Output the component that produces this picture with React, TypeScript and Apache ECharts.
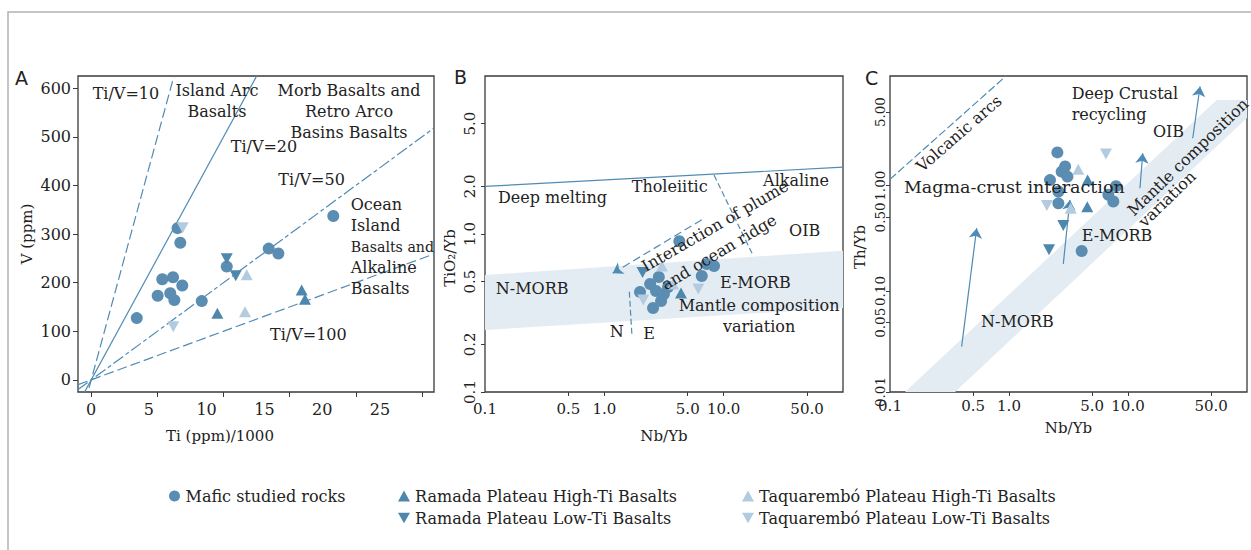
import React, { useEffect, useRef } from 'react';
import * as echarts from 'echarts';

const FONT = '"DejaVu Serif", serif';
const INK = '#222222';
const FRAME = '#3a3a3a';
const LINE_BLUE = '#4f8bb5';
const MAFIC = '#5a8db1';
const RAMADA = '#4e87ad';
const TAQUA = '#b3cbde';
const BAND = '#e4ecf3';

const NAME_MAFIC = 'Mafic studied rocks';
const NAME_RAMADA_HIGH = 'Ramada Plateau High-Ti Basalts';
const NAME_RAMADA_LOW = 'Ramada Plateau Low-Ti Basalts';
const NAME_TAQUA_HIGH = 'Taquarembó Plateau High-Ti Basalts';
const NAME_TAQUA_LOW = 'Taquarembó Plateau Low-Ti Basalts';

// ---- Panel A: Ti (ppm)/1000 vs V (ppm) ----
const maficA = [[3.44, 127], [5.02, 173], [5.37, 207], [6.18, 211], [6.88, 194], [5.97, 178], [6.28, 164], [6.73, 282], [6.52, 312], [8.35, 162], [10.24, 233], [13.41, 270], [14.14, 260], [18.29, 337]];
const ramadaHighA = [[9.53, 137], [15.9, 185], [16.15, 166]];
const ramadaLowA = [[10.24, 249], [10.92, 214]];
const taquaHighA = [[11.75, 216], [11.62, 140]];
const taquaLowA = [[6.2, 109], [6.91, 313]];
const tiVRatios = [10, 20, 50, 100];
const ticksAx = [0, 5, 10, 15, 20, 25];
const ticksAy = [0, 100, 200, 300, 400, 500, 600];

// ---- Panel B: Nb/Yb vs TiO2/Yb ----
const maficB = [[4.25, 0.9], [7.21, 0.646], [8.3, 0.627], [6.55, 0.542], [1.99, 0.43], [2.42, 0.483], [2.86, 0.534], [2.71, 0.436], [3.16, 0.417], [2.99, 0.377], [2.56, 0.34], [3.42, 0.462]];
const ramadaHighB = [[4.39, 0.423]];
const ramadaLowB = [[2.09, 0.571]];
const taquaHighB = [[3.04, 0.627], [3.76, 0.483]];
const taquaLowB = [[2.12, 0.382], [6.13, 0.449]];
const meltingLineB = [[0.1, 2.0], [100, 2.65]];
const alkalineDividerB = [[8.3, 2.36], [17.5, 0.74]];
const nEDividerB = [[1.62, 0.431], [1.706, 0.224]];
const plumeArrowB = [[6.55, 1.23], [1.175, 0.564]];
const morbBandB = [[0.1, 0.55], [100, 0.784], [100, 0.34], [0.1, 0.247]];
const ticksLogX = [0.1, 0.5, 1, 5, 10, 50];
const ticksBy = [0.1, 0.2, 0.5, 1, 2, 5];

// ---- Panel C: Nb/Yb vs Th/Yb ----
const maficC = [[2.55, 2.07], [2.96, 1.52], [2.77, 1.36], [3.1, 1.22], [2.21, 1.13], [2.6, 0.88], [2.6, 0.68], [7.93, 0.99], [6.84, 0.82], [7.53, 0.707], [4.08, 0.24]];
const ramadaHighC = [[4.58, 1.13], [4.55, 0.63]];
const ramadaLowC = [[2.86, 0.42], [2.17, 0.246]];
const taquaHighC = [[3.82, 1.43], [3.3, 0.61]];
const taquaLowC = [[6.53, 2.0], [2.08, 0.65]];
const volcanicArcC = [[0.1, 1.15], [0.944, 11]];
const trendArrowsC = [
  [[0.4, 0.0297], [0.535, 0.395]],
  [[2.86, 0.181], [3.25, 0.732]],
  [[12.6, 0.947], [13.3, 2.03]],
  [[35.0, 2.82], [40.3, 8.74]],
];
const mantleArrayC = [[0.1336, 0.011], [55.6, 6.52], [100, 6.52], [100, 4.4], [0.352, 0.011]];
const ticksCy = [0.011, 0.05, 0.1, 0.5, 1, 5];

// Annotation anchors: [x, y, text, rotation in degrees, alignment, font size]
type Note = [number, number, string, number, 'left' | 'center', number?];
const notesA: Note[] = [
  [0.11, 589, 'Ti/V=10', 0, 'left'],
  [9.5, 574, 'Island Arc\nBasalts', 0, 'center'],
  [19.48, 552, 'Morb Basalts and\nRetro Arco\nBasins Basalts', 0, 'center'],
  [10.54, 481, 'Ti/V=20', 0, 'left'],
  [14.14, 412, 'Ti/V=50', 0, 'left'],
  [19.61, 274, 'Ocean\nIsland\n{c|Basalts and}\nAlkaline\nBasalts', 0, 'left'],
  [13.51, 94, 'Ti/V=100', 0, 'left'],
];
const notesB: Note[] = [
  [0.1285, 1.69, 'Deep melting', 0, 'left'],
  [1.696, 1.99, 'Tholeiitic', 0, 'left'],
  [21.4, 2.17, 'Alkaline', 0, 'left'],
  [35.3, 1.045, 'OIB', 0, 'left'],
  [0.123, 0.455, 'N-MORB', 0, 'left'],
  [9.31, 0.49, 'E-MORB', 0, 'left'],
  [19.8, 0.301, 'Mantle composition\nvariation', 0, 'center'],
  [1.27, 0.241, 'N', 0, 'center'],
  [2.37, 0.233, 'E', 0, 'center'],
  [8.46, 1.124, 'Interaction of plume', 30, 'center'],
  [9.14, 0.769, 'and ocean ridge', 31, 'center'],
];
const notesC: Note[] = [
  [0.38, 3.13, 'Volcanic arcs', 41, 'center'],
  [3.36, 5.97, 'Deep Crustal\nrecycling', 0, 'left'],
  [16.2, 3.25, 'OIB', 0, 'left'],
  [0.131, 0.98, 'Magma-crust interaction', 0, 'left', 17.5],
  [4.08, 0.34, 'E-MORB', 0, 'left'],
  [0.582, 0.051, 'N-MORB', 0, 'left'],
  [31.9, 1.87, 'Mantle composition', 44, 'center'],
  [21.3, 0.75, 'variation', 44, 'center'],
];

const DOWN = 'path://M0,0L10,0L5,8.66Z';
const tickText = { fontFamily: FONT, fontSize: 15, color: INK };
const nameText = { fontFamily: FONT, fontSize: 15, color: INK };

function pointSeries(xi: number, yi: number, sets: number[][][]) {
  const base = { type: 'scatter', xAxisIndex: xi, yAxisIndex: yi, silent: true, z: 5 };
  return [
    { ...base, name: NAME_MAFIC, data: sets[0], symbol: 'circle', symbolSize: 12, itemStyle: { color: MAFIC, opacity: 1 } },
    { ...base, name: NAME_RAMADA_HIGH, data: sets[1], symbol: 'triangle', symbolSize: [12, 11], itemStyle: { color: RAMADA, opacity: 1 } },
    { ...base, name: NAME_RAMADA_LOW, data: sets[2], symbol: DOWN, symbolSize: [12, 11], itemStyle: { color: RAMADA, opacity: 1 } },
    { ...base, name: NAME_TAQUA_HIGH, data: sets[3], symbol: 'triangle', symbolSize: [12, 11], itemStyle: { color: TAQUA, opacity: 1 } },
    { ...base, name: NAME_TAQUA_LOW, data: sets[4], symbol: DOWN, symbolSize: [12, 11], itemStyle: { color: TAQUA, opacity: 1 } },
  ];
}

function lineSeries(xi: number, yi: number, items: any[], arrow = false) {
  return {
    type: 'lines',
    coordinateSystem: 'cartesian2d',
    xAxisIndex: xi,
    yAxisIndex: yi,
    silent: true,
    clip: true,
    z: 3,
    symbol: arrow ? ['none', 'arrow'] : ['none', 'none'],
    symbolSize: [7, 10],
    data: items,
  };
}

function bandSeries(xi: number, yi: number, pts: number[][]) {
  return {
    type: 'custom',
    xAxisIndex: xi,
    yAxisIndex: yi,
    silent: true,
    z: 1,
    data: [pts[0]],
    renderItem: (_p: any, api: any) => ({
      type: 'polygon',
      shape: { points: pts.map((p) => api.coord(p)) },
      style: { fill: BAND },
    }),
  };
}

function noteSeries(xi: number, yi: number, notes: Note[]) {
  return {
    type: 'custom',
    xAxisIndex: xi,
    yAxisIndex: yi,
    silent: true,
    z: 10,
    clip: false,
    data: notes.map((n) => [n[0], n[1]]),
    renderItem: (params: any, api: any) => {
      const n = notes[params.dataIndex];
      const p = api.coord([n[0], n[1]]);
      return {
        type: 'text',
        x: p[0],
        y: p[1],
        rotation: (n[3] * Math.PI) / 180,
        style: {
          text: n[2],
          fill: INK,
          fontFamily: FONT,
          fontSize: n[5] || 16,
          lineHeight: 21,
          align: n[4],
          verticalAlign: 'middle',
          textAlign: n[4],
          textVerticalAlign: 'middle',
          rich: { c: { fontFamily: FONT, fontSize: 14.2, lineHeight: 21, fill: INK, color: INK } },
        },
      };
    },
  };
}

const hiddenLine = { show: false, onZero: false };

function logXAxis(gridIndex: number, name: string, nameGap: number, labelMargin: number) {
  return {
    gridIndex,
    type: 'log',
    logBase: 10,
    min: 0.1,
    max: 100,
    axisLine: hiddenLine,
    splitLine: { show: false },
    axisTick: { show: true, length: 4, customValues: ticksLogX.slice(1), lineStyle: { color: FRAME } },
    axisLabel: { ...tickText, margin: labelMargin, customValues: ticksLogX, formatter: (v: number) => v.toFixed(1) },
    name,
    nameLocation: 'middle',
    nameGap,
    nameTextStyle: { ...nameText },
  };
}

function buildOption() {
  const gridBase = { show: true, borderColor: FRAME, borderWidth: 1.3, backgroundColor: 'transparent', top: 76, height: 316 };
  const dash = (pattern: number[] | string) => ({ color: LINE_BLUE, width: 1.2, type: pattern, opacity: 1 });

  const legendItem = (name: string, icon: string, left: number, top: number) => ({
    left,
    top,
    padding: 0,
    itemWidth: 12,
    itemHeight: 11,
    selectedMode: false,
    textStyle: { fontFamily: FONT, fontSize: 16, color: INK },
    data: [{ name, icon }],
  });

  return {
    animation: false,
    backgroundColor: '#ffffff',
    grid: [
      { ...gridBase, left: 78, width: 356 },
      { ...gridBase, left: 485, width: 358 },
      { ...gridBase, left: 890, width: 357 },
    ],
    xAxis: [
      {
        gridIndex: 0,
        type: 'value',
        min: -1,
        max: 25.9,
        axisLine: hiddenLine,
        splitLine: { show: false },
        axisTick: { show: true, length: 5, customValues: ticksAx, lineStyle: { color: FRAME } },
        axisLabel: { show: false },
        name: 'Ti (ppm)/1000',
        nameLocation: 'middle',
        nameGap: 36,
        nameTextStyle: { ...nameText, padding: [0, 72, 0, 0] },
      },
      {
        gridIndex: 0,
        type: 'value',
        position: 'bottom',
        min: -1.125,
        max: 29.67,
        axisLine: hiddenLine,
        splitLine: { show: false },
        axisTick: { show: false },
        axisLabel: { ...tickText, fontSize: 16, margin: 9, customValues: ticksAx },
      },
      logXAxis(1, 'Nb/Yb', 36, 9),
      logXAxis(2, 'Nb/Yb', 28, 6),
    ],
    yAxis: [
      {
        gridIndex: 0,
        type: 'value',
        min: -25,
        max: 625,
        axisLine: hiddenLine,
        splitLine: { show: false },
        axisTick: { show: true, length: 5, customValues: ticksAy, lineStyle: { color: FRAME } },
        axisLabel: { ...tickText, fontSize: 16, margin: 7, customValues: ticksAy },
        name: 'V (ppm)',
        nameLocation: 'middle',
        nameGap: 44,
        nameTextStyle: { ...nameText },
      },
      {
        gridIndex: 1,
        type: 'log',
        logBase: 10,
        min: 0.1,
        max: 10,
        axisLine: hiddenLine,
        splitLine: { show: false },
        axisTick: { show: true, length: 4, customValues: ticksBy, lineStyle: { color: FRAME } },
        axisLabel: { ...tickText, margin: 8, rotate: 90, customValues: ticksBy, formatter: (v: number) => v.toFixed(1) },
        name: 'TiO₂/Yb',
        nameLocation: 'middle',
        nameGap: 28,
        nameTextStyle: { ...nameText, padding: [0, 48, 0, 0] },
      },
      {
        gridIndex: 2,
        type: 'log',
        logBase: 10,
        min: 0.011,
        max: 11,
        axisLine: hiddenLine,
        splitLine: { show: false },
        axisTick: { show: true, length: 4, customValues: ticksCy, lineStyle: { color: FRAME } },
        axisLabel: { ...tickText, fontSize: 13.5, margin: 3, rotate: 90, customValues: ticksCy, formatter: (v: number) => v.toFixed(2) },
        name: 'Th/Yb',
        nameLocation: 'middle',
        nameGap: 23,
        nameTextStyle: { ...nameText, padding: [0, 26, 0, 0] },
      },
    ],
    legend: [
      legendItem(NAME_MAFIC, 'circle', 169, 488),
      legendItem(NAME_RAMADA_HIGH, 'triangle', 398, 488),
      legendItem(NAME_RAMADA_LOW, DOWN, 398, 510),
      legendItem(NAME_TAQUA_HIGH, 'triangle', 742, 488),
      legendItem(NAME_TAQUA_LOW, DOWN, 742, 510),
    ],
    graphic: [
      { type: 'rect', silent: true, z: 0, shape: { x: 8, y: 12, width: 1400, height: 700 }, style: { fill: 'none', stroke: '#b3b3b3', lineWidth: 1.5 } },
      { type: 'text', silent: true, x: 15, y: 78, style: { text: 'A', fontFamily: '"DejaVu Sans", sans-serif', fontSize: 19, fill: INK, verticalAlign: 'middle' } },
      { type: 'text', silent: true, x: 454, y: 77, style: { text: 'B', fontFamily: '"DejaVu Sans", sans-serif', fontSize: 19, fill: INK, verticalAlign: 'middle' } },
      { type: 'text', silent: true, x: 865, y: 78, style: { text: 'C', fontFamily: '"DejaVu Sans", sans-serif', fontSize: 19, fill: INK, verticalAlign: 'middle' } },
    ],
    series: [
      // Panel A
      lineSeries(0, 0, tiVRatios.map((k) => ({
        coords: [[-1, -1000 / k], [26, (26 * 1000) / k]],
        lineStyle: dash(k === 20 ? 'solid' : k === 50 ? [12, 3, 4, 3] : [10, 4]),
      }))),
      ...pointSeries(0, 0, [maficA, ramadaHighA, ramadaLowA, taquaHighA, taquaLowA]),
      noteSeries(0, 0, notesA),
      // Panel B
      bandSeries(2, 1, morbBandB),
      lineSeries(2, 1, [
        { coords: meltingLineB, lineStyle: dash('solid') },
        { coords: alkalineDividerB, lineStyle: dash([6, 3]) },
        { coords: nEDividerB, lineStyle: dash([6, 3]) },
      ]),
      lineSeries(2, 1, [{ coords: plumeArrowB, lineStyle: dash([8, 4]) }], true),
      ...pointSeries(2, 1, [maficB, ramadaHighB, ramadaLowB, taquaHighB, taquaLowB]),
      noteSeries(2, 1, notesB),
      // Panel C
      bandSeries(3, 2, mantleArrayC),
      lineSeries(3, 2, [{ coords: volcanicArcC, lineStyle: dash([8, 3]) }]),
      lineSeries(3, 2, trendArrowsC.map((c) => ({ coords: c, lineStyle: dash('solid') })), true),
      ...pointSeries(3, 2, [maficC, ramadaHighC, ramadaLowC, taquaHighC, taquaLowC]),
      noteSeries(3, 2, notesC),
    ],
  };
}

export default function App() {
  const ref = useRef<HTMLDivElement>(null);
  useEffect(() => {
    if (!ref.current) return;
    const chart = echarts.init(ref.current, undefined, { renderer: 'svg' });
    chart.setOption(buildOption() as any);
    return () => chart.dispose();
  }, []);
  return (
    <div
      ref={ref}
      style={{ position: 'fixed', left: 0, top: 0, width: 1251, height: 550, background: '#ffffff' }}
    />
  );
}
